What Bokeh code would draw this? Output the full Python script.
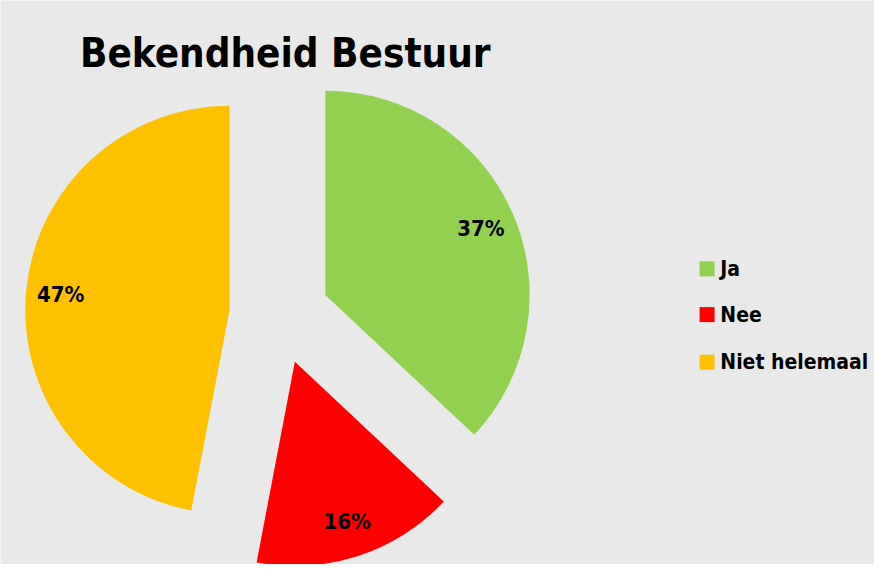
import math
from bokeh.plotting import figure
from bokeh.models import Range1d, ColumnDataSource
from bokeh.core.properties import value
from bokeh.embed import file_html
from bokeh.resources import INLINE

# ---- data ----
chart_title = "Bekendheid Bestuur"
categories = ["Ja", "Nee", "Niet helemaal"]
percentages = [37, 16, 47]
colors = ["#92D050", "#FF0000", "#FFC000"]

# ---- layout / style ----
BG = "#E9E9E9"
FONT = value("'DejaVu Sans Condensed', 'Roboto Condensed', 'Liberation Sans Narrow', 'DejaVu Sans', sans-serif")
W, H = 874, 564

p = figure(width=W, height=H, x_range=Range1d(0, 890), y_range=Range1d(-580, 0),
           output_backend="svg", toolbar_location=None, min_border=0)
p.axis.visible = False
p.grid.visible = False
p.outline_line_color = None
p.background_fill_color = BG
p.border_fill_color = BG

cx, cy, r, explode = 284, -323, 208, 51
total = sum(percentages)
xs, ys, starts, ends, lxs, lys, labels = [], [], [], [], [], [], []
cum = 0
for v in percentages:
    a0 = cum / total * 2 * math.pi
    a1 = (cum + v) / total * 2 * math.pi
    mid = (a0 + a1) / 2
    ox = cx + explode * math.sin(mid)
    oy = cy + explode * math.cos(mid)
    xs.append(ox)
    ys.append(oy)
    starts.append(math.pi / 2 - a0)
    ends.append(math.pi / 2 - a1)
    lxs.append(ox + 0.83 * r * math.sin(mid))
    lys.append(oy + 0.83 * r * math.cos(mid))
    labels.append(f"{v}%")
    cum += v

src = ColumnDataSource(dict(x=xs, y=ys, start=starts, end=ends, color=colors,
                            lx=lxs, ly=lys, label=labels, cat=categories))
p.wedge(x="x", y="y", radius=r, start_angle="start", end_angle="end", direction="clock",
        fill_color="color", line_color=None, source=src)
p.text(x="lx", y="ly", text="label", source=src, text_font=FONT, text_font_style="bold",
       text_font_size="22px", text_color="black", text_align="center", text_baseline="middle")

# title
p.text(x=[290], y=[-54], text=[chart_title], text_font=FONT, text_font_style="bold",
       text_font_size="40px", text_color="black", text_align="center", text_baseline="alphabetic")

# legend
leg_y = [-276, -323, -372]
p.scatter(x=[719.5] * 3, y=leg_y, marker="square", size=15, fill_color=colors, line_color=None)
p.text(x=[733] * 3, y=leg_y, text=categories, text_font=FONT, text_font_style="bold",
       text_font_size="21px", text_color="black", text_align="left", text_baseline="middle")

open("out.html", "w").write(file_html(p, INLINE))
